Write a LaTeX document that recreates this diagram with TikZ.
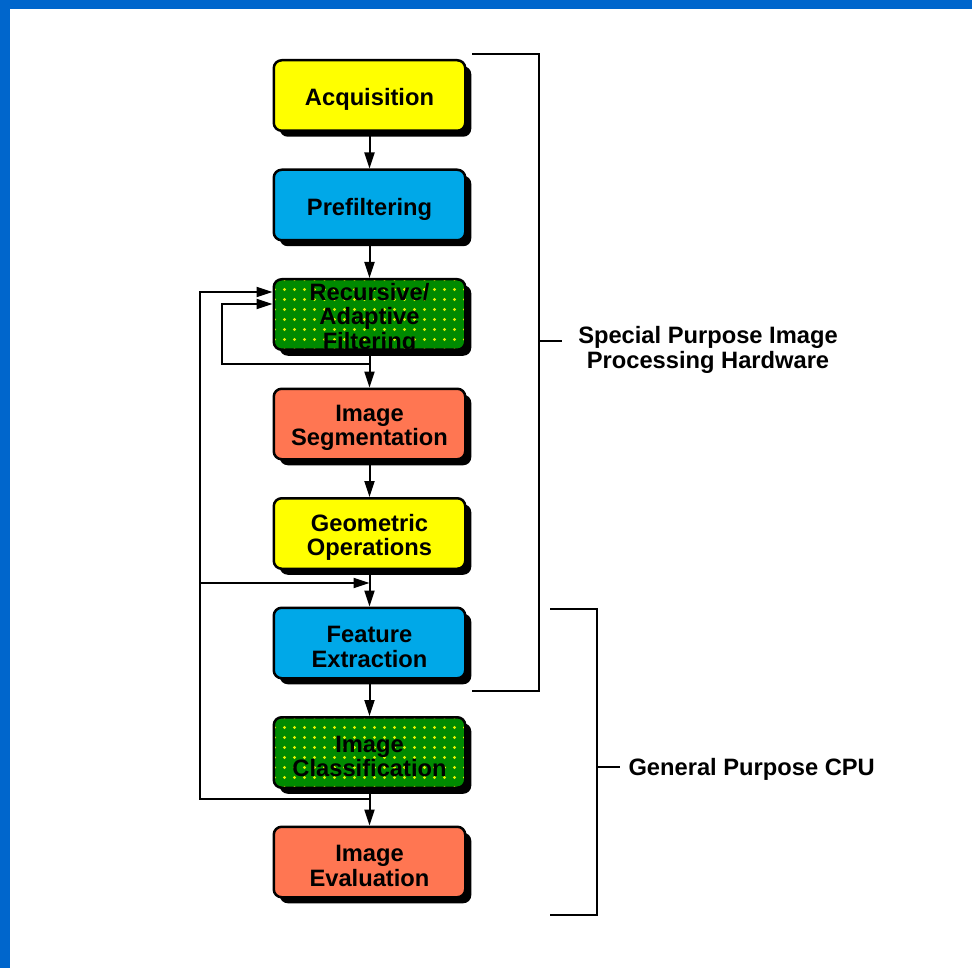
\documentclass[tikz,border=0pt]{standalone}
\usepackage{fontspec}
\setmainfont{Liberation Sans}
\usetikzlibrary{arrows.meta,shadows}
\definecolor{frameblue}{HTML}{0066CC}
\definecolor{boxyellow}{HTML}{FFFF00}
\definecolor{boxblue}{HTML}{00A8E8}
\definecolor{boxgreen}{HTML}{008A00}
\definecolor{dotyellow}{HTML}{E4F400}
\definecolor{boxcoral}{HTML}{FF7652}

\tikzset{
  stagefont/.style={font=\bfseries\fontsize{23.7pt}{24.5pt}\selectfont, align=center},
  stage/.style={draw=black, line width=2.5pt, rounded corners=8pt,
    minimum width=191.5pt, minimum height=70.5pt, inner sep=0pt,
    drop shadow={shadow xshift=6pt, shadow yshift=-6pt, fill=black, opacity=1}},
  txt/.style={label={[stagefont, yshift=-4pt]center:#1}},
  yel/.style={stage, fill=boxyellow},
  blu/.style={stage, fill=boxblue},
  grn/.style={stage, fill=boxgreen,
    path picture={
      \foreach \dx in {-95,-85,...,95}
        \foreach \dy in {-35,-25,...,35}
          \fill[dotyellow, shift={(path picture bounding box.center)}] (\dx,\dy) circle (1.7pt);
    }},
  org/.style={stage, fill=boxcoral},
  conn/.style={line width=2pt, draw=black},
  arr/.style={conn, -{Triangle[length=16pt,width=10pt]}},
  brk/.style={line width=2pt, draw=black},
  lbl/.style={align=center, font=\bfseries\fontsize{23.7pt}{25pt}\selectfont}
}

\begin{document}
\begin{tikzpicture}[x=1pt,y=-1pt]
\useasboundingbox (0,0) rectangle (972,968);
\fill[white] (0,0) rectangle (972,968);
\fill[frameblue] (0,0) rectangle (972,9);
\fill[frameblue] (0,0) rectangle (10,968);

\node[yel, txt={Acquisition}] (acq) at (369.5,95.5) {};
\node[blu, txt={Prefiltering}] (pre) at (369.5,205) {};
\node[grn, txt={Recursive/\\Adaptive\\Filtering}] (rec) at (369.5,314.5) {};
\node[org, txt={Image\\Segmentation}] (seg) at (369.5,424) {};
\node[yel, txt={Geometric\\Operations}] (geo) at (369.5,533.5) {};
\node[blu, txt={Feature\\Extraction}] (fea) at (369.5,643) {};
\node[grn, txt={Image\\Classification}] (cla) at (369.5,752.5) {};
\node[org, txt={Image\\Evaluation}] (eva) at (369.5,862) {};

\draw[arr] (acq) -- (pre);
\draw[arr] (pre) -- (rec);
\draw[arr] (rec) -- (seg);
\draw[arr] (seg) -- (geo);
\draw[arr] (geo) -- (fea);
\draw[arr] (fea) -- (cla);
\draw[arr] (cla) -- (eva);

% outer feedback loop
\coordinate (jA) at (369.5,799);
\coordinate (oL) at (200,799);
\coordinate (oT) at (200,292);
\coordinate (oM) at (200,583);
\coordinate (jB) at (369.5,583);
\draw[arr] (jA) -- (oL) -- (oT) -- (rec.west |- oT);
\draw[arr] (oM) -- (jB);

% inner feedback loop
\coordinate (jC) at (369.5,364);
\coordinate (iB) at (222,364);
\coordinate (iT) at (222,304);
\draw[arr] (jC) -- (iB) -- (iT) -- (rec.west |- iT);

% brackets
\coordinate (b1a) at (472,54);
\coordinate (b1b) at (539,54);
\coordinate (b1c) at (539,691);
\coordinate (b1d) at (472,691);
\coordinate (b1m) at (539,341);
\coordinate (b1t) at (562,341);
\draw[brk] (b1a) -- (b1b) -- (b1c) -- (b1d);
\draw[brk] (b1m) -- (b1t);
\node[lbl] (hw) at (708,350) {Special Purpose Image\\Processing Hardware};

\coordinate (b2a) at (550,609);
\coordinate (b2b) at (597,609);
\coordinate (b2c) at (597,915);
\coordinate (b2d) at (550,915);
\coordinate (b2m) at (597,767);
\coordinate (b2t) at (620,767);
\draw[brk] (b2a) -- (b2b) -- (b2c) -- (b2d);
\draw[brk] (b2m) -- (b2t);
\node[lbl, anchor=west] (cpu) at (625,769) {General Purpose CPU};
\end{tikzpicture}
\end{document}
